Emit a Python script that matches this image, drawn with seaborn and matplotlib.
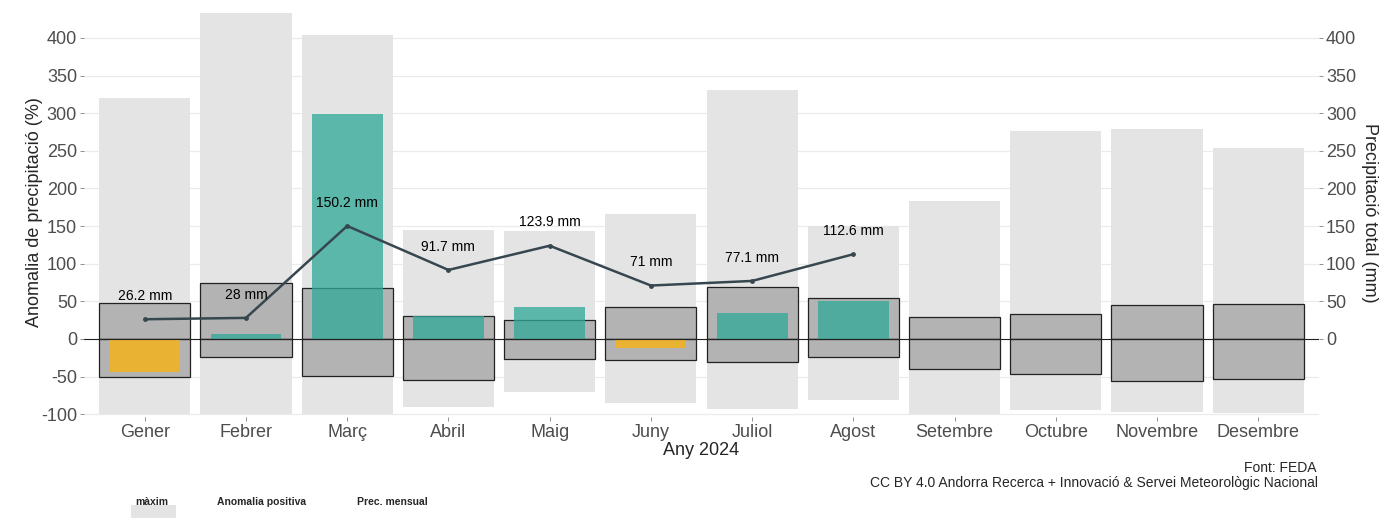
import numpy as np
import pandas as pd
import matplotlib
matplotlib.use("Agg")
import matplotlib.pyplot as plt
from matplotlib.patches import Rectangle
import seaborn as sns

months = ["Gener", "Febrer", "Març", "Abril", "Maig", "Juny", "Juliol",
          "Agost", "Setembre", "Octubre", "Novembre", "Desembre"]

# historic range (light grey), % anomaly
max_top = [320, 433, 404, 145, 144, 166, 331, 150, 183, 276, 279, 254]
max_bottom = [-100, -100, -100, -90, -70, -85, -93, -81, -100, -94, -97, -99]

# central range (dark boxes)
box_top = [47.4, 75, 67.3, 30.6, 24.8, 43, 68.7, 55, 28.8, 33, 45, 47]
box_bottom = [-51, -24.4, -48.7, -54.5, -26, -28.3, -30.6, -24.4, -40.3, -47, -56, -53]

# 2024 values
months_2024 = months[:8]
anomaly = [-43.4, 6.6, 299, 31, 42.5, -11.5, 34.5, 50]
precip = [26.2, 28, 150.2, 91.7, 123.9, 71, 77.1, 112.6]

light_grey = "#e4e4e4"
box_grey = "#b3b3b3"
teal = "#31a999"
orange = "#e9b233"
line_col = "#37474f"

sns.set_style("white")
plt.rcParams["font.family"] = ["Liberation Sans", "DejaVu Sans"]
plt.rcParams["axes.unicode_minus"] = False

df_rng = pd.DataFrame({"mes": months, "max_top": max_top, "max_bottom": max_bottom,
                       "box_top": box_top, "box_bottom": box_bottom})
df24 = pd.DataFrame({"mes": months_2024, "anomalia": anomaly, "prec": precip})
df24["signe"] = np.where(df24["anomalia"] >= 0, "pos", "neg")

fig = plt.figure(figsize=(13.83, 5.18), dpi=100)
ax = fig.add_axes([84 / 1383, 1 - 417 / 518, (1319 - 84) / 1383, (417 - 8) / 518])

# light grey range (split at zero, both halves meet)
for col in ["max_top", "max_bottom"]:
    sns.barplot(data=df_rng, x="mes", y=col, order=months, color=light_grey,
                saturation=1, width=0.9, ax=ax, zorder=1, linewidth=0)

# dark boxes with outline
for col in ["box_top", "box_bottom"]:
    sns.barplot(data=df_rng, x="mes", y=col, order=months, color=box_grey,
                saturation=1, width=0.9, ax=ax, zorder=2,
                edgecolor="#222222", linewidth=0.9)

# anomaly bars
sns.barplot(data=df24[df24["signe"] == "pos"], x="mes", y="anomalia", order=months,
            color=teal, saturation=1, width=0.7, ax=ax, zorder=3, alpha=0.76,
            linewidth=0)
sns.barplot(data=df24[df24["signe"] == "neg"], x="mes", y="anomalia", order=months,
            color=orange, saturation=1, width=0.7, ax=ax, zorder=3, linewidth=0)

ax.axhline(0, color="#222222", lw=0.8, zorder=4)

# monthly precipitation line (same scale as right axis)
sns.lineplot(x=np.arange(len(months_2024)), y=df24["prec"], ax=ax, color=line_col,
             lw=1.8, marker="o", markersize=3.5, markeredgewidth=0, zorder=5)
for i, v in enumerate(precip):
    ax.text(i, v + 31, f"{v:g} mm", ha="center", va="center", fontsize=10,
            color="black", zorder=6)

ax.set_xlim(-0.6, 11.6)
ax.set_ylim(-103.7, 439.8)
ax.set_yticks(np.arange(-100, 401, 50))
ax.yaxis.grid(True, color="#ebebeb", lw=0.9)
ax.set_axisbelow(True)
for s in ax.spines.values():
    s.set_visible(False)
ax.tick_params(axis="both", labelsize=13, labelcolor="#4d4d4d", color="#7f7f7f",
               length=3, width=0.6, pad=2, left=True, bottom=True)
ax.set_xlabel("Any 2024", fontsize=13, labelpad=1)
ax.set_ylabel("Anomalia de precipitació (%)", fontsize=13)
ax.yaxis.set_label_coords(-0.033, 0.5)

ax2 = ax.twinx()
ax2.set_ylim(ax.get_ylim())
ax2.set_yticks(np.arange(0, 401, 50))
for s in ax2.spines.values():
    s.set_visible(False)
ax2.tick_params(axis="y", labelsize=13, labelcolor="#4d4d4d", color="#7f7f7f",
                length=3, width=0.6, pad=2, right=True)
ax2.set_ylabel("Precipitació total (mm)", fontsize=13, rotation=270, labelpad=16)

# caption
fig.text(1316 / 1383, 1 - 468 / 518, "Font: FEDA", ha="right", va="center", fontsize=10)
fig.text(1318 / 1383, 1 - 483 / 518,
         "CC BY 4.0 Andorra Recerca + Innovació & Servei Meteorològic Nacional",
         ha="right", va="center", fontsize=10)

# legend titles (keys cut at the bottom edge)
fig.text(152 / 1383, 1 - 502 / 518, "màxim", ha="center", va="center",
         fontsize=7.5, fontweight="bold")
fig.text(262 / 1383, 1 - 502 / 518, "Anomalia positiva", ha="center", va="center",
         fontsize=7.5, fontweight="bold")
fig.text(392 / 1383, 1 - 502 / 518, "Prec. mensual", ha="center", va="center",
         fontsize=7.5, fontweight="bold")
fig.patches.append(Rectangle((131 / 1383, 0), 45 / 1383, 13 / 518,
                             transform=fig.transFigure, color=light_grey, lw=0))

fig.savefig("out.png", dpi=100)
